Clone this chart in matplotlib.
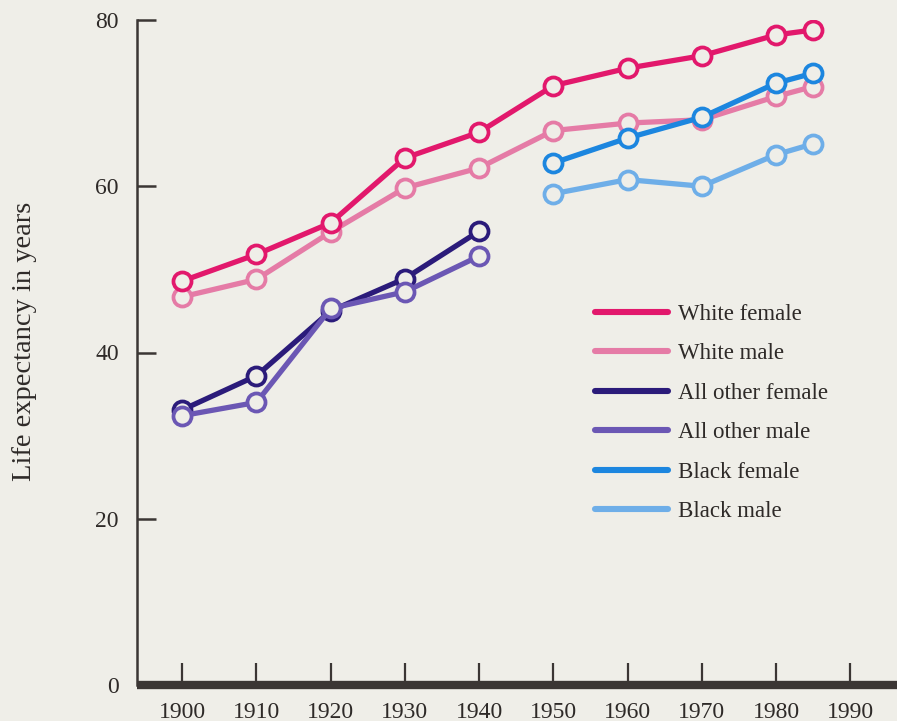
import matplotlib
matplotlib.use("Agg")
from matplotlib import pyplot as plt
from matplotlib.lines import Line2D

BG = "#efeee8"
INK = "#3b3634"
TXT = "#2e2a28"

years_early = [1900, 1910, 1920, 1930, 1940]
years_late = [1950, 1960, 1970, 1980, 1985]
years_all = years_early + years_late

# life expectancy at birth
white_female = [48.6, 51.8, 55.6, 63.4, 66.5, 72.1, 74.2, 75.7, 78.2, 78.8]
white_male = [46.7, 48.8, 54.5, 59.8, 62.2, 66.7, 67.6, 68.0, 70.8, 72.0]
other_female = [33.1, 37.2, 45.0, 48.9, 54.6]
other_male = [32.4, 34.0, 45.3, 47.3, 51.6]
black_female = [62.8, 65.8, 68.3, 72.4, 73.6]
black_male = [59.1, 60.8, 60.0, 63.8, 65.1]

series = [
    # label, x, y, colour
    ("White male", years_all, white_male, "#e57ba6"),
    ("White female", years_all, white_female, "#e2186c"),
    ("All other female", years_early, other_female, "#2b1b7a"),
    ("All other male", years_early, other_male, "#6b57b4"),
    ("Black male", years_late, black_male, "#6eaee8"),
    ("Black female", years_late, black_female, "#1c86df"),
]
legend_order = ["White female", "White male", "All other female",
                "All other male", "Black female", "Black male"]

plt.rcParams["font.family"] = ["Liberation Serif", "DejaVu Serif"]

fig = plt.figure(figsize=(8.97, 7.21), dpi=100, facecolor=BG)
ax = fig.add_axes([137 / 897, 1 - 685 / 721, 1 - 137 / 897, 665 / 721])
ax.set_facecolor(BG)

colours = {}
for label, xs, ys, col in series:
    colours[label] = col
    ax.plot(xs, ys, color=col, lw=3.8, marker="o", ms=13,
            mfc=BG, mec=col, mew=2.7, solid_capstyle="round", zorder=3)

ax.set_xlim(1893.9, 1996.3)
ax.set_ylim(0, 80)

ax.set_xticks(range(1900, 2000, 10))
ax.set_yticks([0, 20, 40, 60, 80])

for side in ["top", "right"]:
    ax.spines[side].set_visible(False)
ax.spines["left"].set_linewidth(1.8)
ax.spines["left"].set_color(INK)
ax.spines["bottom"].set_linewidth(6)
ax.spines["bottom"].set_color(INK)
ax.spines["bottom"].set_capstyle("butt")

ax.tick_params(axis="x", direction="in", length=16, width=1.6, color=INK,
               pad=12, labelsize=17, labelcolor=TXT)
ax.tick_params(axis="y", direction="in", length=14, width=1.8, color=INK,
               pad=13, labelsize=17, labelcolor=TXT)

ax.set_ylabel("Life expectancy in years", fontsize=20.5, color=TXT)
ax.yaxis.set_label_coords(-0.132, 0.516)

handles = [Line2D([0], [0], color=colours[n], lw=4.4, solid_capstyle="round")
           for n in legend_order]
leg = ax.legend(handles, legend_order, loc="upper left",
                bbox_to_anchor=(595 / 897, 1 - 304 / 721),
                bbox_transform=fig.transFigure, frameon=False,
                fontsize=16.5, handlelength=3.2, handletextpad=0.42,
                labelspacing=0.8, borderpad=0, borderaxespad=0)
for t in leg.get_texts():
    t.set_color(TXT)

fig.savefig("out.png", dpi=100, facecolor=BG)
